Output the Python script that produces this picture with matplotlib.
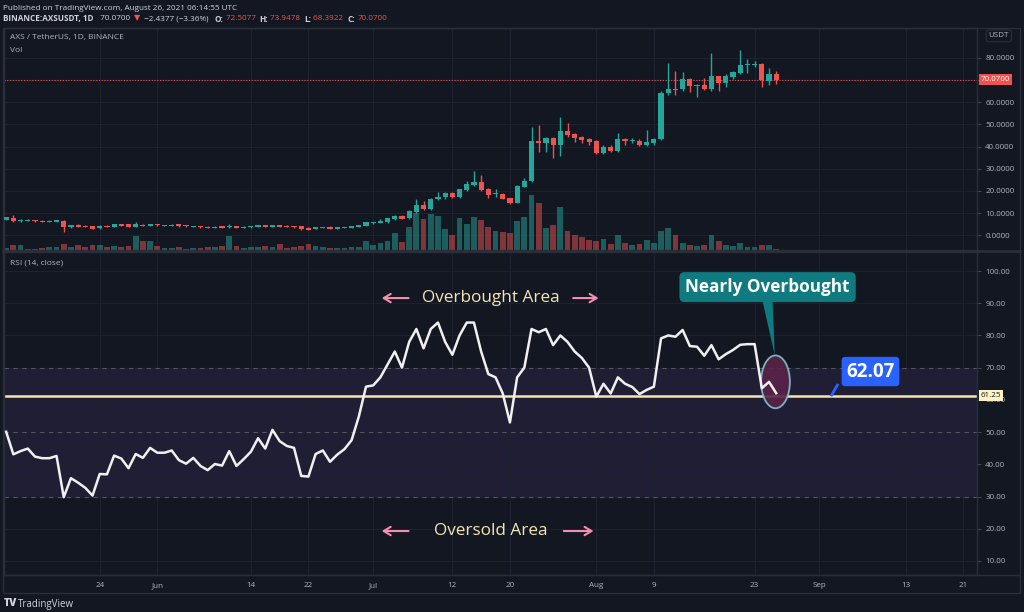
import numpy as np
import pandas as pd
import matplotlib
matplotlib.use("Agg")
import matplotlib.pyplot as plt
from matplotlib.patches import Ellipse, Polygon, Rectangle

# ---------------- data ----------------
start_date = "2021-05-11"
opens = [6.9, 7.9, 6.3, 6.6, 6.9, 6.6, 6.0, 6.2, 6.6, 3.6, 4.8, 4.3, 4.0, 3.15, 4.3, 3.75, 4.95, 4.95, 3.9, 4.8,
         4.3, 4.95, 4.35, 4.35, 4.95, 4.5, 3.9, 4.2, 3.9, 3.3, 4.0, 3.6, 4.2, 3.3, 3.6, 3.75, 4.65, 3.75, 4.65, 4.35,
         4.2, 4.2, 3.45, 2.85, 3.3, 3.9, 3.0, 3.3, 3.45, 3.75, 4.35, 5.4, 5.7, 5.85, 7.2, 8.8, 7.7, 10.5, 13.5, 11.7,
         16.2, 17.1, 18.9, 17.1, 20.4, 22.8, 24.0, 21.0, 18.6, 18.6, 16.8, 14.7, 21.9, 24.3, 42.6, 41.7, 43.8, 40.7, 46.8, 45.6,
         44.1, 43.2, 42.3, 37.2, 39.9, 38.1, 43.5, 42.6, 42.6, 40.9, 41.7, 43.2, 64.2, 66.0, 65.8, 70.5, 67.4, 67.6, 65.8, 71.8,
         68.8, 71.4, 73.2, 76.8, 76.9, 77.2, 69.4, 72.5077]
highs = [8.3, 9.0, 7.3, 7.3, 7.0, 7.0, 6.9, 6.9, 6.8, 4.8, 5.0, 4.5, 4.2, 4.5, 4.5, 5.1, 5.2, 5.3, 5.9, 5.0,
         5.1, 5.1, 4.8, 4.95, 5.1, 4.7, 4.4, 4.4, 4.0, 4.0, 4.1, 5.1, 4.3, 4.0, 4.3, 4.6, 4.8, 4.8, 4.8, 4.5,
         4.35, 4.3, 3.6, 3.9, 3.9, 4.0, 3.9, 3.9, 4.2, 4.8, 6.0, 6.2, 7.2, 7.8, 9.0, 9.0, 11.2, 16.5, 15.6, 17.0,
         19.6, 19.5, 19.5, 21.0, 24.6, 29.1, 27.3, 21.3, 21.0, 19.2, 17.0, 22.6, 26.0, 48.9, 49.6, 44.5, 44.5, 53.4, 50.4, 46.0,
         44.6, 43.7, 43.0, 40.8, 40.5, 45.9, 44.0, 43.8, 43.2, 47.4, 44.0, 65.0, 77.5, 73.9, 73.6, 71.0, 68.2, 70.9, 82.0, 72.0,
         72.6, 74.2, 83.5, 79.3, 78.6, 77.6, 75.4, 73.9478]
lows = [6.8, 6.2, 6.0, 6.5, 6.2, 5.8, 5.8, 6.0, 1.5, 3.4, 3.7, 3.6, 2.9, 3.0, 3.6, 3.6, 4.2, 3.8, 3.8, 4.0,
        4.2, 4.3, 4.2, 4.2, 3.9, 3.9, 3.8, 3.5, 3.2, 3.2, 3.3, 3.5, 3.2, 3.2, 3.5, 3.6, 3.6, 3.6, 3.6, 3.6,
        3.5, 2.6, 2.4, 2.7, 3.2, 2.9, 2.9, 3.2, 3.3, 3.6, 4.2, 5.3, 5.5, 5.7, 7.0, 7.3, 7.5, 10.2, 11.2, 11.4,
        15.8, 16.3, 16.7, 16.8, 20.1, 22.3, 20.1, 16.9, 17.4, 16.2, 14.3, 14.4, 21.6, 24.0, 37.7, 37.7, 34.7, 35.9, 44.5, 42.0,
        41.6, 40.9, 36.5, 36.7, 37.4, 37.6, 40.6, 41.5, 40.2, 40.3, 40.8, 42.8, 63.2, 63.1, 65.0, 64.5, 62.4, 65.5, 65.0, 65.1,
        67.0, 70.5, 72.8, 73.0, 75.7, 66.7, 67.6, 68.3922]
closes = [8.1, 6.4, 7.0, 7.1, 6.3, 6.0, 6.6, 6.7, 3.74, 4.5, 3.9, 3.75, 3.0, 4.3, 3.75, 4.95, 4.35, 3.9, 4.95, 4.2,
          4.95, 4.5, 4.65, 4.8, 4.05, 4.05, 4.3, 3.6, 3.3, 3.9, 3.45, 4.2, 3.3, 3.9, 4.2, 4.5, 3.75, 4.65, 3.75, 3.75,
          3.6, 2.7, 2.55, 3.75, 3.75, 3.0, 3.75, 3.75, 4.05, 4.65, 5.85, 6.0, 6.3, 7.65, 8.7, 7.5, 10.8, 13.5, 11.7, 16.5,
          17.4, 18.9, 17.1, 20.7, 23.1, 24.0, 20.4, 18.3, 19.2, 16.5, 14.7, 22.2, 24.6, 42.3, 41.8, 43.8, 40.7, 46.8, 45.3, 43.8,
          42.9, 42.0, 37.2, 39.9, 38.1, 43.5, 42.3, 42.9, 40.8, 42.0, 43.5, 64.2, 66.0, 65.5, 70.5, 67.3, 67.9, 66.0, 71.8, 68.8,
          71.8, 73.6, 76.8, 77.1, 77.2, 70.1, 72.5, 70.07]
volume = [2.3, 5.3, 4.7, 1.3, 1.3, 2.0, 3.3, 2.7, 6.0, 3.0, 5.3, 2.7, 4.7, 4.7, 3.3, 4.0, 3.3, 4.0, 14.0, 8.7,
          9.3, 4.0, 2.0, 2.0, 2.7, 1.3, 1.5, 2.3, 3.0, 3.0, 3.7, 13.7, 4.0, 2.0, 3.3, 2.7, 4.3, 2.7, 5.7, 2.0,
          3.0, 3.7, 5.7, 4.0, 2.7, 2.0, 2.0, 2.0, 2.5, 3.3, 9.0, 4.7, 7.3, 9.3, 16.7, 8.0, 23.3, 37.3, 31.3, 36.0,
          34.0, 21.3, 14.7, 32.0, 26.0, 33.3, 30.0, 22.7, 18.7, 18.0, 16.7, 29.3, 33.3, 55.0, 46.7, 22.0, 24.7, 43.3, 18.7, 15.3,
          12.7, 10.0, 8.7, 10.7, 6.0, 15.3, 7.3, 5.3, 6.0, 10.0, 6.7, 19.3, 22.0, 14.7, 7.3, 5.3, 4.0, 4.7, 14.7, 8.7,
          4.7, 4.0, 7.3, 3.3, 3.3, 4.7, 5.3, 1.3]
rsi = [50.1, 43.1, 44.1, 44.9, 42.4, 41.9, 41.9, 42.6, 29.8, 35.7, 34.3, 32.7, 30.3, 37.0, 36.9, 42.7, 41.8, 38.8, 43.2, 42.0,
       45.1, 43.6, 43.6, 44.3, 41.3, 40.2, 42.0, 39.5, 38.2, 40.1, 39.6, 44.1, 39.5, 41.6, 43.9, 48.1, 44.9, 50.7, 47.2, 45.7,
       45.1, 36.4, 36.2, 43.2, 44.3, 40.8, 43.0, 44.7, 47.5, 54.8, 64.1, 64.5, 67.0, 71.0, 75.0, 70.0, 78.0, 82.0, 76.0, 82.0,
       84.0, 78.0, 74.0, 80.0, 84.0, 84.0, 75.0, 68.0, 67.0, 62.0, 53.0, 67.0, 70.0, 82.0, 81.0, 82.0, 77.0, 80.0, 78.0, 75.0,
       73.0, 70.0, 61.0, 65.0, 62.0, 67.0, 65.0, 64.0, 61.8, 63.1, 64.1, 79.1, 80.0, 79.6, 81.7, 76.7, 76.5, 73.7, 77.0, 72.6,
       74.2, 75.5, 77.1, 77.3, 77.3, 63.6, 65.6, 62.07]

tick_dates = ["2021-05-24", "2021-06-01", "2021-06-14", "2021-06-22", "2021-07-01", "2021-07-12", "2021-07-20",
              "2021-08-01", "2021-08-09", "2021-08-23", "2021-09-01", "2021-09-13", "2021-09-21"]
tick_labels = ["24", "Jun", "14", "22", "Jul", "12", "20", "Aug", "9", "23", "Sep", "13", "21"]
price_ticks = [0, 10, 20, 30, 40, 50, 60, 70, 80]
rsi_ticks = [10, 20, 30, 40, 50, 60, 70, 80, 90, 100]
last_price = 70.07
hline_level = 61.25
rsi_last_label = "62.07"

# ---------------- style ----------------
BG = "#131722"
GRID = "#1d2130"
BORDER = "#2a2e39"
TXT = "#b2b5be"
UP = "#26a69a"
DN = "#ef5350"
plt.rcParams["font.family"] = ["Open Sans", "DejaVu Sans"]

W, H = 1024, 612
fig = plt.figure(figsize=(W / 100, H / 100), dpi=100, facecolor=BG)


def fx(px):
    return px / W


def fy(py):
    return 1 - py / H


left_px, right_px = 4, 977
ax_p = fig.add_axes([fx(left_px), fy(250), fx(right_px - left_px), (250 - 28) / H])
ax_r = fig.add_axes([fx(left_px), fy(575), fx(right_px - left_px), (575 - 252) / H], sharex=ax_p)
for ax in (ax_p, ax_r):
    ax.set_facecolor(BG)
    for s in ax.spines.values():
        s.set_color(BORDER)
        s.set_linewidth(1)

n = len(closes)
x = np.arange(n)
o = np.array(opens); c = np.array(closes); h = np.array(highs); l = np.array(lows)
up = c >= o
colors = np.where(up, UP, DN)

tick_pos = (pd.to_datetime(tick_dates) - pd.Timestamp(start_date)).days.values

# ---------- price pane ----------
ax_p.set_xlim(-0.3, 134.9)
ax_p.set_ylim(-6.6, 93.4)
ax_p.set_yticks(price_ticks)
# the 70 label is hidden behind the last-price tag
ax_p.set_yticklabels(["" if abs(v - last_price) < 3 else f"{v:.4f}" for v in price_ticks])
ax_p.set_xticks(tick_pos)
ax_p.tick_params(axis="x", bottom=False, labelbottom=False)
ax_p.yaxis.tick_right()
ax_p.tick_params(axis="y", colors=TXT, labelsize=5.8, length=3, pad=3)
ax_p.tick_params(axis="y", which="both", color="#434651")
ax_p.grid(True, color=GRID, linewidth=0.8)
ax_p.set_axisbelow(True)

vol = np.array(volume)
vol_frac = vol / vol.max() * 0.248
ax_p.bar(x, vol_frac, width=0.8, color=colors, alpha=0.5, transform=ax_p.get_xaxis_transform(), zorder=1)

ax_p.vlines(x, l, h, colors=colors, linewidth=1.0, zorder=2)
body_bot = np.minimum(o, c)
body_h = np.maximum(np.abs(c - o), 0.35)
ax_p.bar(x, body_h, bottom=body_bot, width=0.72, color=colors, zorder=3)

ax_p.axhline(last_price, color=DN, linestyle=(0, (1, 1.5)), linewidth=0.8, zorder=1)
ax_p.text(1.004, last_price, f"{last_price:.4f}", transform=ax_p.get_yaxis_transform(), fontsize=5.8,
          color="white", va="center", ha="left",
          bbox=dict(boxstyle="square,pad=0.25", fc=DN, ec="none"), zorder=10, clip_on=False)
ax_p.text(1.012, 0.965, "USDT", transform=ax_p.transAxes, fontsize=5.8, color=TXT, va="center", ha="left",
          bbox=dict(boxstyle="round,pad=0.3", fc=BG, ec=BORDER, lw=0.8), clip_on=False)
ax_p.text(0.006, 0.955, "AXS / TetherUS, 1D, BINANCE", transform=ax_p.transAxes, fontsize=6, color=TXT, va="center")
ax_p.text(0.006, 0.9, "Vol", transform=ax_p.transAxes, fontsize=6, color=TXT, va="center")

# ---------- RSI pane ----------
ax_r.set_ylim(5.65, 105.9)
ax_r.set_yticks(rsi_ticks)
ax_r.set_yticklabels([f"{v:.2f}" for v in rsi_ticks])
ax_r.yaxis.tick_right()
ax_r.tick_params(axis="y", colors=TXT, labelsize=5.8, length=3, pad=3)
ax_r.tick_params(axis="y", color="#434651")
ax_r.set_xticks(tick_pos)
ax_r.set_xticklabels(tick_labels)
ax_r.tick_params(axis="x", colors=TXT, labelsize=5.8, length=0, pad=5)
ax_r.grid(True, color=GRID, linewidth=0.8)
ax_r.set_axisbelow(True)

ax_r.axhspan(30, 70, color="#7e57c2", alpha=0.12, lw=0, zorder=0.5)
for lv in (70, 50, 30):
    ax_r.axhline(lv, color="#787b86", linestyle=(0, (4, 4)), linewidth=0.8, alpha=0.6, zorder=1)
ax_r.axhline(hline_level, color="#f5e6b0", linewidth=1.8, zorder=2)
ax_r.plot(x, rsi, color="#f0f0f0", linewidth=1.8, zorder=4)
ax_r.text(1.004, hline_level, f"{hline_level:.2f}", transform=ax_r.get_yaxis_transform(), fontsize=5.8,
          color="#131722", va="center", ha="left",
          bbox=dict(boxstyle="square,pad=0.25", fc="#fff3c4", ec="none"), zorder=10, clip_on=False)
ax_r.text(0.006, 0.967, "RSI (14, close)", transform=ax_r.transAxes, fontsize=6, color=TXT, va="center")

# annotations
PINK = "#f48fb1"
CREAM = "#f3e5b5"
for yv, label, (la, lb), (ra, rb) in [(91.6, "Overbought Area", (56.3, 51.8), (78.4, 82.7)),
                                      (19.3, "Oversold Area", (56.3, 51.8), (77.1, 82.0))]:
    ax_r.text(67.4, yv, label, color=CREAM, fontsize=12.3, ha="center", va="center", zorder=6)
    ax_r.annotate("", xy=(lb, yv), xytext=(la, yv),
                  arrowprops=dict(arrowstyle="->,head_length=0.5,head_width=0.3", color=PINK, lw=1.5))
    ax_r.annotate("", xy=(rb, yv), xytext=(ra, yv),
                  arrowprops=dict(arrowstyle="->,head_length=0.5,head_width=0.3", color=PINK, lw=1.5))

ax_r.add_patch(Ellipse((106.9, 65.6), 4.0, 16.4, fc="#5a2348", ec="#7fc4cf", lw=1.3, alpha=0.9, zorder=3))
ax_r.add_patch(Polygon([(105.1, 90.7), (106.5, 90.7), (106.8, 73.9)], closed=True, fc="#0f7b80", ec="none", zorder=6))
ax_r.text(105.8, 95.0, "Nearly Overbought", color="white", fontsize=12.3, fontweight="bold", ha="center",
          va="center", zorder=7, bbox=dict(boxstyle="round,pad=0.35,rounding_size=0.3", fc="#0f7b80", ec="none"))
ax_r.plot([115.5, 114.7], [64.6, 61.5], color="#2962ff", lw=2, zorder=6)
ax_r.text(120.1, 68.8, rsi_last_label, color="white", fontsize=13.5, fontweight="bold", ha="center",
          va="center", zorder=7, bbox=dict(boxstyle="round,pad=0.25,rounding_size=0.2", fc="#2962ff", ec="none"))

# ---------- frame, headers ----------
fig.add_artist(Rectangle((fx(3), fy(593)), fx(1020 - 3), (593 - 28) / H, transform=fig.transFigure,
                         fill=False, ec=BORDER, lw=1))
fig.add_artist(plt.Line2D([fx(3), fx(1020)], [fy(251), fy(251)], transform=fig.transFigure, color=BORDER, lw=2))
fig.add_artist(plt.Line2D([fx(3), fx(1020)], [fy(575), fy(575)], transform=fig.transFigure, color=BORDER, lw=1))

fig.text(fx(3), fy(8), "Published on TradingView.com, August 26, 2021 06:14:55 UTC", fontsize=5.9,
         color="#d1d4dc", va="center", ha="left")

renderer = fig.canvas.get_renderer()
parts = [("BINANCE:AXSUSDT, 1D", "#d1d4dc", "bold"), ("  70.0700 ", "#d1d4dc", "normal"),
         ("▼", DN, "normal"), (" −2.4377 (−3.36%)  ", "#d1d4dc", "normal"),
         ("O:", "#d1d4dc", "bold"), ("72.5077 ", DN, "normal"), ("H:", "#d1d4dc", "bold"), ("73.9478 ", DN, "normal"),
         ("L:", "#d1d4dc", "bold"), ("68.3922 ", DN, "normal"), ("C:", "#d1d4dc", "bold"), ("70.0700", DN, "normal")]
cx = fx(3)
for s, col, wt in parts:
    t = fig.text(cx, fy(19), s, fontsize=5.9, color=col, fontweight=wt, va="center", ha="left",
                 family=["Open Sans", "DejaVu Sans"])
    bb = t.get_window_extent(renderer=renderer)
    cx = bb.x1 / fig.bbox.width + fx(2)

fig.text(fx(4), fy(604), "TV", fontsize=7.5, fontweight="heavy", color="#d1d4dc", va="center", ha="left")
fig.text(fx(18), fy(604), "TradingView", fontsize=7, color="#d1d4dc", va="center", ha="left")

fig.savefig("out.png", dpi=100, facecolor=BG)
